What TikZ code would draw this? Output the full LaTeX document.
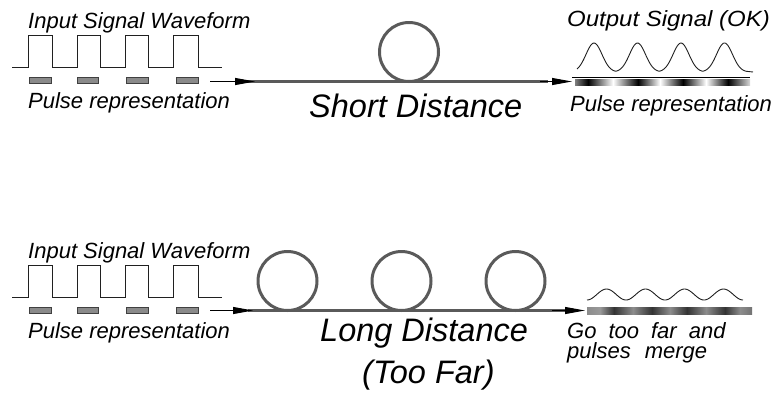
\documentclass[tikz,border=0pt]{standalone}
\usepackage{graphicx}
\usepackage{fontspec}
\setmainfont{Liberation Sans}
\usetikzlibrary{arrows.meta}
\definecolor{fibergray}{HTML}{5A5A5A}
\definecolor{pulsefill}{HTML}{8A8A8A}
\definecolor{pulseline}{HTML}{404040}
\definecolor{wavecol}{HTML}{202020}
\pgfdeclarehorizontalshading{okbar}{100bp}{color(0bp)=(black!50); color(25bp)=(black!50); color(28.71bp)=(black); color(35.86bp)=(white); color(43bp)=(black); color(49.29bp)=(white); color(55.86bp)=(black); color(62.43bp)=(white); color(68.71bp)=(black); color(75bp)=(black!15); color(100bp)=(black!15)}
\pgfdeclarehorizontalshading{mergebar}{100bp}{color(0bp)=(black!45); color(25bp)=(black!45); color(28.94bp)=(black!40); color(33.18bp)=(black!80); color(38.94bp)=(black!45); color(44.7bp)=(black!80); color(50.15bp)=(black!45); color(55.3bp)=(black!80); color(61.06bp)=(black!45); color(66.82bp)=(black!80); color(71.36bp)=(black!45); color(75bp)=(black!55); color(100bp)=(black!55)}
\tikzset{
  lbl/.style={font=\fontsize{22}{24}\selectfont\itshape, inner sep=0pt, anchor=base west},
  biglbl/.style={font=\fontsize{32.5}{36}\selectfont\itshape, inner sep=0pt, anchor=base west},
  sqwave/.style={draw=wavecol, line width=1pt},
  pulsebox/.style={draw=pulseline, fill=pulsefill, line width=0.8pt},
  fiber/.style={draw=fibergray, line width=3pt},
  loopring/.style={circle, draw=fibergray, line width=3pt, minimum size=59pt, inner sep=0pt},
  feed/.style={draw=black, line width=1pt, -{Triangle[length=20pt,width=7pt]}},
  outwave/.style={draw=wavecol, line width=0.9pt},
}
\begin{document}
\begin{tikzpicture}[x=1pt,y=-1pt]
\useasboundingbox (0,0) rectangle (779,392);

% ---------- top: short distance ----------
\node[lbl] (inlblT) at (28,28) {Input Signal Waveform};
\draw[sqwave] (12,67) -- (28,67) -- (28,35) -- (52,35) -- (52,67) -- (77,67) -- (77,35) -- (100,35) -- (100,67) -- (125,67) -- (125,35) -- (148,35) -- (148,67) -- (173,67) -- (173,35) -- (198,35) -- (198,67) -- (222,67);
\draw[pulsebox] (29,77) rectangle (51,83);
\draw[pulsebox] (77,77) rectangle (98,83);
\draw[pulsebox] (126,77) rectangle (148,83);
\draw[pulsebox] (176,77) rectangle (198,83);
\node[lbl] (pulselblT) at (28,108) {Pulse representation};

\coordinate (fibTa) at (248,81.5);
\coordinate (fibTb) at (548,81.5);
\draw[fiber] (fibTa) -- (fibTb);
\node[loopring] (loopT) at (409,52) {};
\coordinate (inTa) at (210,81.5);
\coordinate (inTb) at (255,81.5);
\draw[feed] (inTa) -- (inTb);
\coordinate (outTa) at (540,81.5);
\coordinate (outTb) at (572,81.5);
\draw[feed] (outTa) -- (outTb);
\node[biglbl] (shortlbl) at (309,117) {Short Distance};

\node[lbl] (outlbl) at (567,26) {\scalebox{1.09}[1]{Output Signal (OK)}};
\draw[outwave] plot[domain=577:746.25, samples=200, smooth] (\x, {72-29*exp(-((mod(\x-572.25,43.5)-21.75)^2)/128)}) -- (753,72);
\shade[shading=okbar] (575,79) rectangle (750,85);
\draw[black, line width=1.2pt] (572,77.5) -- (750,77.5);
\node[lbl] (pulselblR) at (570,111) {Pulse representation};

% ---------- bottom: long distance ----------
\node[lbl] (inlblB) at (28,258) {Input Signal Waveform};
\draw[sqwave] (12,297) -- (28,297) -- (28,265) -- (52,265) -- (52,297) -- (77,297) -- (77,265) -- (100,265) -- (100,297) -- (125,297) -- (125,265) -- (148,265) -- (148,297) -- (173,297) -- (173,265) -- (198,265) -- (198,297) -- (222,297);
\draw[pulsebox] (29,307) rectangle (51,313);
\draw[pulsebox] (77,307) rectangle (98,313);
\draw[pulsebox] (126,307) rectangle (148,313);
\draw[pulsebox] (176,307) rectangle (198,313);
\node[lbl] (pulselblB) at (28,338) {Pulse representation};

\coordinate (fibBa) at (248,310.5);
\coordinate (fibBb) at (565,310.5);
\draw[fiber] (fibBa) -- (fibBb);
\node[loopring] (loopB1) at (287.5,281) {};
\node[loopring] (loopB2) at (401.5,281) {};
\node[loopring] (loopB3) at (515.5,281) {};
\coordinate (inBa) at (210,310.5);
\coordinate (inBb) at (253,310.5);
\draw[feed] (inBa) -- (inBb);
\coordinate (outBa) at (552,310.5);
\coordinate (outBb) at (585,310.5);
\draw[feed] (outBa) -- (outBb);
\node[biglbl] (longlbl) at (320,341.5) {Long Distance};
\node[biglbl] (farlbl) at (362,383) {(Too Far)};

\draw[outwave] plot[domain=587:743, samples=120, smooth] (\x, {294.5+5.5*cos(9.230769*(\x-587))});
\shade[shading=mergebar] (587,307) rectangle (752,314);
\node[lbl] (mergelbl1) at (567,338) {Go\hspace{12pt}too\hspace{12pt}far\hspace{12pt}and};
\node[lbl] (mergelbl2) at (567,358) {pulses\hspace{14pt}merge};
\end{tikzpicture}
\end{document}
